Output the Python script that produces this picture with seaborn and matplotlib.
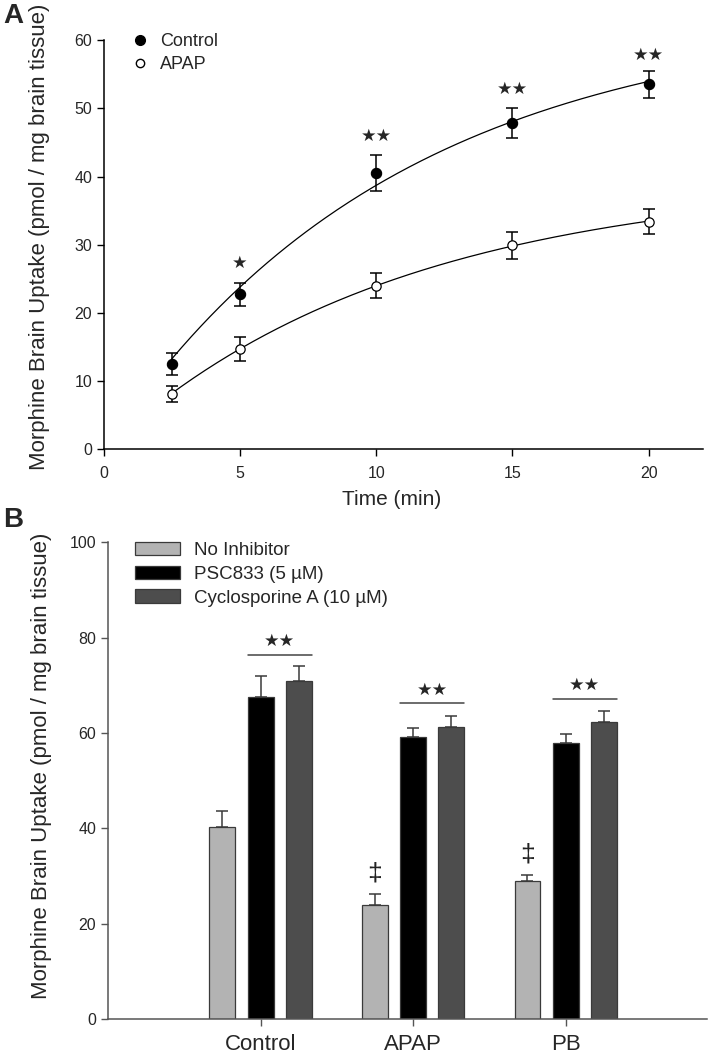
import numpy as np
import pandas as pd
import matplotlib
matplotlib.use("Agg")
import matplotlib.pyplot as plt
from matplotlib.lines import Line2D
from matplotlib.patches import Patch
import seaborn as sns

# ---- panel A data (time course) ----
time_min = [2.5, 5, 10, 15, 20]
control_mean = [12.5, 22.7, 40.5, 47.9, 53.5]
control_sem = [1.6, 1.7, 2.6, 2.2, 2.0]
apap_mean = [8.1, 14.7, 24.0, 29.9, 33.4]
apap_sem = [1.2, 1.7, 1.8, 2.0, 1.8]
star_labels_a = ["★", "★★", "★★", "★★"]
star_x_a = [5, 10, 15, 20]
star_y_a = [27.3, 46.0, 52.9, 57.9]

# ---- panel B data (inhibitors) ----
groups = ["Control", "APAP", "PB"]
treatments = ["No Inhibitor", "PSC833 (5 µM)", "Cyclosporine A (10 µM)"]
no_inhib = [40.2, 24.0, 29.0]
no_inhib_sem = [3.4, 2.3, 1.2]
psc833 = [67.5, 59.1, 57.9]
psc833_sem = [4.4, 1.9, 1.8]
csa = [70.9, 61.2, 62.3]
csa_sem = [3.1, 2.3, 2.3]
sig_line_y = [76.3, 66.2, 67.1]
dagger_y = [None, 30.6, 34.4]

bar_colors = ["#b3b3b3", "#000000", "#4d4d4d"]

sns.set_style("ticks")
plt.rcParams["font.family"] = ["Liberation Sans", "DejaVu Sans"]


def fit_exp(t, y):
    # y = a * (1 - exp(-k t)), least squares by scanning k
    t = np.asarray(t, float)
    y = np.asarray(y, float)
    best = None
    for k in np.linspace(0.01, 1.0, 2000):
        f = 1 - np.exp(-k * t)
        a = (f @ y) / (f @ f)
        sse = ((y - a * f) ** 2).sum()
        if best is None or sse < best[0]:
            best = (sse, a, k)
    return best[1], best[2]


fig = plt.figure(figsize=(7.11, 10.57), dpi=100)
axA = fig.add_axes([0.146, 0.575, 0.843, 0.387])
axB = fig.add_axes([0.152, 0.036, 0.843, 0.451])

# ---------------- Panel A ----------------
t_line = np.linspace(2.5, 20, 200)
for mean in (control_mean, apap_mean):
    a, k = fit_exp(time_min, mean)
    sns.lineplot(x=t_line, y=a * (1 - np.exp(-k * t_line)), color="black",
                 lw=0.9, ax=axA)

axA.errorbar(time_min, control_mean, yerr=control_sem, fmt="none",
             ecolor="black", elinewidth=1.1, capsize=4.5, capthick=1.1, zorder=2)
axA.errorbar(time_min, apap_mean, yerr=apap_sem, fmt="none",
             ecolor="black", elinewidth=1.1, capsize=4.5, capthick=1.1, zorder=2)
sns.scatterplot(x=time_min, y=control_mean, color="black", edgecolor="black",
                s=55, linewidth=0.8, zorder=4, ax=axA)
sns.scatterplot(x=time_min, y=apap_mean, color="white", edgecolor="black",
                s=45, linewidth=0.9, zorder=4, ax=axA)

for lab, x, y in zip(star_labels_a, star_x_a, star_y_a):
    axA.text(x, y, lab, ha="center", va="center", fontsize=12.5,
             family="DejaVu Sans")

axA.set_xlim(0, 22)
axA.set_ylim(0, 60)
axA.set_xticks([0, 5, 10, 15, 20])
axA.set_yticks(range(0, 61, 10))
axA.tick_params(labelsize=11.5, length=5, width=1, color="black")
axA.tick_params(axis="x", pad=7)
axA.set_xlabel("Time (min)", fontsize=15)
axA.set_ylabel("Morphine Brain Uptake (pmol / mg brain tissue)", fontsize=16)
axA.yaxis.set_label_coords(-0.09, 0.52)
axA.xaxis.set_label_coords(0.48, -0.10)
for s in ("top", "right"):
    axA.spines[s].set_visible(False)
for s in ("left", "bottom"):
    axA.spines[s].set_linewidth(1.1)
    axA.spines[s].set_color("black")

legA = [
    Line2D([], [], marker="o", ls="none", markerfacecolor="black",
           markeredgecolor="black", markersize=7),
    Line2D([], [], marker="o", ls="none", markerfacecolor="white",
           markeredgecolor="black", markersize=6),
]
axA.legend(legA, ["Control", "APAP"], loc="upper left",
           bbox_to_anchor=(0.03, 1.04), frameon=False, fontsize=13,
           handlelength=1.0, handletextpad=0.6, labelspacing=0.35,
           borderpad=0)
fig.text(0.005, 0.985, "A", fontsize=20, fontweight="bold", va="center")

# ---------------- Panel B ----------------
df = pd.DataFrame({
    "group": groups * 3,
    "treatment": np.repeat(treatments, 3),
    "value": no_inhib + psc833 + csa,
})
sems = [no_inhib_sem, psc833_sem, csa_sem]

sns.barplot(data=df, x="group", y="value", hue="treatment", order=groups,
            hue_order=treatments, palette=bar_colors, width=0.75, gap=0.32,
            errorbar=None, edgecolor="#3a3a3a", linewidth=0.9, legend=False,
            ax=axB)

for cont, err in zip(axB.containers, sems):
    for bar, e in zip(cont, err):
        xc = bar.get_x() + bar.get_width() / 2
        h = bar.get_height()
        axB.errorbar(xc, h, yerr=[[0], [e]], fmt="none", ecolor="#3a3a3a",
                     elinewidth=1.1, capsize=4.5, capthick=1.1, zorder=0.5)

psc_bars = list(axB.containers[1])
csa_bars = list(axB.containers[2])
gray_bars = list(axB.containers[0])
for pb, cb, ly in zip(psc_bars, csa_bars, sig_line_y):
    x0 = pb.get_x()
    x1 = cb.get_x() + cb.get_width()
    axB.plot([x0, x1], [ly, ly], color="#444444", lw=1.1)
    axB.text((x0 + x1) / 2, ly + 2.9, "★★", ha="center", va="center",
             fontsize=12.5, family="DejaVu Sans")
for gb, dy in zip(gray_bars, dagger_y):
    if dy is None:
        continue
    axB.text(gb.get_x() + gb.get_width() / 2, dy, "‡", ha="center",
             va="center", fontsize=19, color="#222222")

axB.set_xlim(-1.0, 2.93)
axB.set_ylim(0, 100)
axB.set_yticks(range(0, 101, 20))
axB.tick_params(axis="y", labelsize=11.5, length=5, width=1, color="#555555")
axB.tick_params(axis="x", labelsize=16, length=5, width=1, color="#555555",
                pad=6)
axB.set_xlabel("")
axB.set_ylabel("Morphine Brain Uptake (pmol / mg brain tissue)", fontsize=16)
axB.yaxis.set_label_coords(-0.093, 0.53)
for s in ("top", "right"):
    axB.spines[s].set_visible(False)
for s in ("left", "bottom"):
    axB.spines[s].set_linewidth(1.1)
    axB.spines[s].set_color("#555555")

legB = [Patch(facecolor=c, edgecolor="#3a3a3a", linewidth=0.9)
        for c in bar_colors]
axB.legend(legB, treatments, loc="upper left", bbox_to_anchor=(0.03, 1.02),
           frameon=False, fontsize=13.5, handlelength=2.4, handleheight=0.7,
           handletextpad=0.7, labelspacing=0.35, borderpad=0)
fig.text(0.005, 0.508, "B", fontsize=20, fontweight="bold", va="center")

fig.savefig("out.png", dpi=100)
